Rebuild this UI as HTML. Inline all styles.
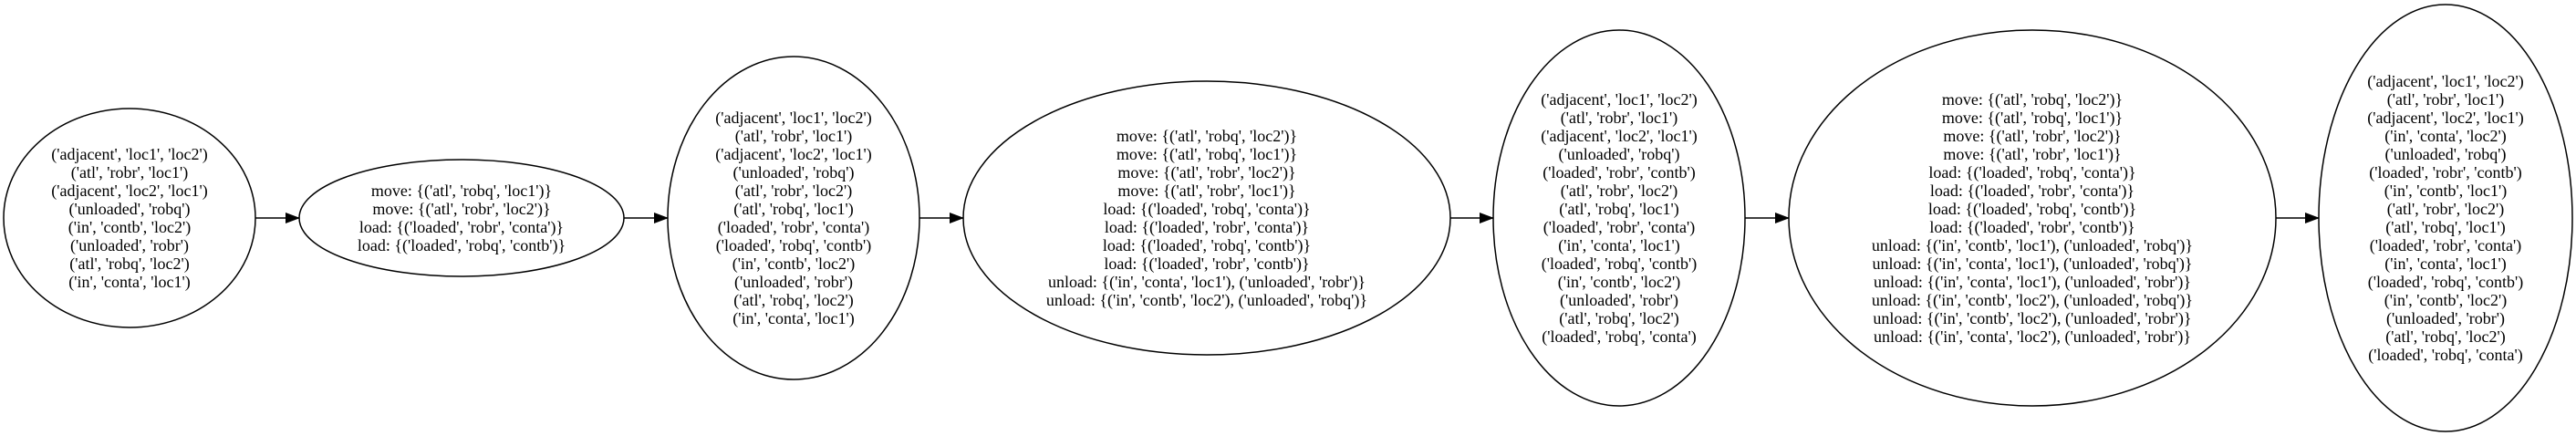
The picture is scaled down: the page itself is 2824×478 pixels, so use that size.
<!DOCTYPE html>
<html><head><meta charset="utf-8"><style>
html,body{margin:0;padding:0;background:#fff;}
svg{display:block;}
text{font-family:"Liberation Serif","Times New Roman",serif;font-size:18px;fill:#000;}
</style></head><body>
<svg width="2824" height="478" viewBox="0 0 2824 478" xmlns="http://www.w3.org/2000/svg">
<defs><marker id="a" markerWidth="16" markerHeight="12" refX="15" refY="6" orient="auto" markerUnits="userSpaceOnUse"><path d="M0,0 L16,6 L0,12 Z" fill="#000"/></marker></defs>
<g fill="none" stroke="#000" stroke-width="1.5">
<ellipse cx="142" cy="239" rx="138" ry="120"/>
<ellipse cx="506" cy="239" rx="178" ry="64"/>
<ellipse cx="870" cy="239" rx="138" ry="177"/>
<ellipse cx="1323" cy="239" rx="267" ry="150"/>
<ellipse cx="1775" cy="239" rx="138" ry="206"/>
<ellipse cx="2228" cy="239" rx="267" ry="206"/>
<ellipse cx="2681" cy="239" rx="139" ry="234"/>
<line x1="280" y1="239" x2="328" y2="239" marker-end="url(#a)"/>
<line x1="684" y1="239" x2="732" y2="239" marker-end="url(#a)"/>
<line x1="1008" y1="239" x2="1056" y2="239" marker-end="url(#a)"/>
<line x1="1590" y1="239" x2="1637" y2="239" marker-end="url(#a)"/>
<line x1="1913" y1="239" x2="1961" y2="239" marker-end="url(#a)"/>
<line x1="2495" y1="239" x2="2542" y2="239" marker-end="url(#a)"/>
</g>
<g text-anchor="middle">
<text x="142" y="175"><tspan x="142" dy="0">('adjacent', 'loc1', 'loc2')</tspan><tspan x="142" dy="20">('atl', 'robr', 'loc1')</tspan><tspan x="142" dy="20">('adjacent', 'loc2', 'loc1')</tspan><tspan x="142" dy="20">('unloaded', 'robq')</tspan><tspan x="142" dy="20">('in', 'contb', 'loc2')</tspan><tspan x="142" dy="20">('unloaded', 'robr')</tspan><tspan x="142" dy="20">('atl', 'robq', 'loc2')</tspan><tspan x="142" dy="20">('in', 'conta', 'loc1')</tspan></text>
<text x="506" y="215"><tspan x="506" dy="0">move: {('atl', 'robq', 'loc1')}</tspan><tspan x="506" dy="20">move: {('atl', 'robr', 'loc2')}</tspan><tspan x="506" dy="20">load: {('loaded', 'robr', 'conta')}</tspan><tspan x="506" dy="20">load: {('loaded', 'robq', 'contb')}</tspan></text>
<text x="870" y="135"><tspan x="870" dy="0">('adjacent', 'loc1', 'loc2')</tspan><tspan x="870" dy="20">('atl', 'robr', 'loc1')</tspan><tspan x="870" dy="20">('adjacent', 'loc2', 'loc1')</tspan><tspan x="870" dy="20">('unloaded', 'robq')</tspan><tspan x="870" dy="20">('atl', 'robr', 'loc2')</tspan><tspan x="870" dy="20">('atl', 'robq', 'loc1')</tspan><tspan x="870" dy="20">('loaded', 'robr', 'conta')</tspan><tspan x="870" dy="20">('loaded', 'robq', 'contb')</tspan><tspan x="870" dy="20">('in', 'contb', 'loc2')</tspan><tspan x="870" dy="20">('unloaded', 'robr')</tspan><tspan x="870" dy="20">('atl', 'robq', 'loc2')</tspan><tspan x="870" dy="20">('in', 'conta', 'loc1')</tspan></text>
<text x="1323" y="155"><tspan x="1323" dy="0">move: {('atl', 'robq', 'loc2')}</tspan><tspan x="1323" dy="20">move: {('atl', 'robq', 'loc1')}</tspan><tspan x="1323" dy="20">move: {('atl', 'robr', 'loc2')}</tspan><tspan x="1323" dy="20">move: {('atl', 'robr', 'loc1')}</tspan><tspan x="1323" dy="20">load: {('loaded', 'robq', 'conta')}</tspan><tspan x="1323" dy="20">load: {('loaded', 'robr', 'conta')}</tspan><tspan x="1323" dy="20">load: {('loaded', 'robq', 'contb')}</tspan><tspan x="1323" dy="20">load: {('loaded', 'robr', 'contb')}</tspan><tspan x="1323" dy="20">unload: {('in', 'conta', 'loc1'), ('unloaded', 'robr')}</tspan><tspan x="1323" dy="20">unload: {('in', 'contb', 'loc2'), ('unloaded', 'robq')}</tspan></text>
<text x="1775" y="115"><tspan x="1775" dy="0">('adjacent', 'loc1', 'loc2')</tspan><tspan x="1775" dy="20">('atl', 'robr', 'loc1')</tspan><tspan x="1775" dy="20">('adjacent', 'loc2', 'loc1')</tspan><tspan x="1775" dy="20">('unloaded', 'robq')</tspan><tspan x="1775" dy="20">('loaded', 'robr', 'contb')</tspan><tspan x="1775" dy="20">('atl', 'robr', 'loc2')</tspan><tspan x="1775" dy="20">('atl', 'robq', 'loc1')</tspan><tspan x="1775" dy="20">('loaded', 'robr', 'conta')</tspan><tspan x="1775" dy="20">('in', 'conta', 'loc1')</tspan><tspan x="1775" dy="20">('loaded', 'robq', 'contb')</tspan><tspan x="1775" dy="20">('in', 'contb', 'loc2')</tspan><tspan x="1775" dy="20">('unloaded', 'robr')</tspan><tspan x="1775" dy="20">('atl', 'robq', 'loc2')</tspan><tspan x="1775" dy="20">('loaded', 'robq', 'conta')</tspan></text>
<text x="2228" y="115"><tspan x="2228" dy="0">move: {('atl', 'robq', 'loc2')}</tspan><tspan x="2228" dy="20">move: {('atl', 'robq', 'loc1')}</tspan><tspan x="2228" dy="20">move: {('atl', 'robr', 'loc2')}</tspan><tspan x="2228" dy="20">move: {('atl', 'robr', 'loc1')}</tspan><tspan x="2228" dy="20">load: {('loaded', 'robq', 'conta')}</tspan><tspan x="2228" dy="20">load: {('loaded', 'robr', 'conta')}</tspan><tspan x="2228" dy="20">load: {('loaded', 'robq', 'contb')}</tspan><tspan x="2228" dy="20">load: {('loaded', 'robr', 'contb')}</tspan><tspan x="2228" dy="20">unload: {('in', 'contb', 'loc1'), ('unloaded', 'robq')}</tspan><tspan x="2228" dy="20">unload: {('in', 'conta', 'loc1'), ('unloaded', 'robq')}</tspan><tspan x="2228" dy="20">unload: {('in', 'conta', 'loc1'), ('unloaded', 'robr')}</tspan><tspan x="2228" dy="20">unload: {('in', 'contb', 'loc2'), ('unloaded', 'robq')}</tspan><tspan x="2228" dy="20">unload: {('in', 'contb', 'loc2'), ('unloaded', 'robr')}</tspan><tspan x="2228" dy="20">unload: {('in', 'conta', 'loc2'), ('unloaded', 'robr')}</tspan></text>
<text x="2681" y="95"><tspan x="2681" dy="0">('adjacent', 'loc1', 'loc2')</tspan><tspan x="2681" dy="20">('atl', 'robr', 'loc1')</tspan><tspan x="2681" dy="20">('adjacent', 'loc2', 'loc1')</tspan><tspan x="2681" dy="20">('in', 'conta', 'loc2')</tspan><tspan x="2681" dy="20">('unloaded', 'robq')</tspan><tspan x="2681" dy="20">('loaded', 'robr', 'contb')</tspan><tspan x="2681" dy="20">('in', 'contb', 'loc1')</tspan><tspan x="2681" dy="20">('atl', 'robr', 'loc2')</tspan><tspan x="2681" dy="20">('atl', 'robq', 'loc1')</tspan><tspan x="2681" dy="20">('loaded', 'robr', 'conta')</tspan><tspan x="2681" dy="20">('in', 'conta', 'loc1')</tspan><tspan x="2681" dy="20">('loaded', 'robq', 'contb')</tspan><tspan x="2681" dy="20">('in', 'contb', 'loc2')</tspan><tspan x="2681" dy="20">('unloaded', 'robr')</tspan><tspan x="2681" dy="20">('atl', 'robq', 'loc2')</tspan><tspan x="2681" dy="20">('loaded', 'robq', 'conta')</tspan></text>
</g>
</svg>
</body></html>
